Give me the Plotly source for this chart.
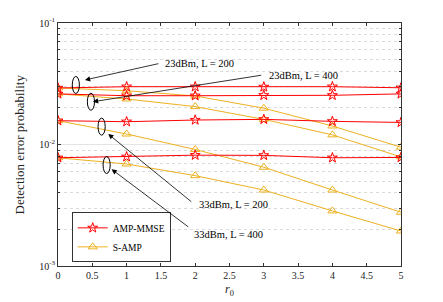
import plotly.graph_objects as go

r0 = [0, 1, 2, 3, 4, 5]

# AMP-MMSE
amp_23_200 = [0.0292, 0.0299, 0.0299, 0.0298, 0.0299, 0.0293]
amp_23_400 = [0.0261, 0.0252, 0.0252, 0.0254, 0.0254, 0.0261]
amp_33_200 = [0.0157, 0.0154, 0.0159, 0.0161, 0.0155, 0.0152]
amp_33_400 = [0.00778, 0.00792, 0.00817, 0.00814, 0.00778, 0.00782]

# S-AMP
samp_23_200 = [0.0292, 0.0277, 0.0251, 0.0199, 0.0142, 0.0095]
samp_23_400 = [0.0261, 0.0237, 0.0205, 0.0161, 0.0120, 0.0079]
samp_33_200 = [0.0157, 0.0122, 0.0091, 0.0065, 0.00422, 0.00277]
samp_33_400 = [0.00778, 0.00691, 0.00554, 0.00422, 0.00284, 0.00194]

x_ticks = [0, 0.5, 1, 1.5, 2, 2.5, 3, 3.5, 4, 4.5, 5]
y_major = [1e-3, 1e-2, 1e-1]
y_major_text = ["10<sup>-3</sup>", "10<sup>-2</sup>", "10<sup>-1</sup>"]
y_minor = [m * d for d in (1e-3, 1e-2) for m in range(2, 10)]

RED = "#ff0000"
YEL = "#EDB120"
FONT = "Liberation Serif"

fig = go.Figure()

for i, s in enumerate([samp_23_200, samp_23_400, samp_33_200, samp_33_400]):
    fig.add_trace(go.Scatter(
        x=r0, y=s, mode="lines+markers", name="S-AMP",
        line=dict(color=YEL, width=1),
        marker=dict(symbol="triangle-up-open", size=8, color=YEL, line=dict(width=1)),
        showlegend=(i == 0), legendrank=2))

for i, s in enumerate([amp_23_200, amp_23_400, amp_33_200, amp_33_400]):
    fig.add_trace(go.Scatter(
        x=r0, y=s, mode="lines+markers", name="AMP-MMSE",
        line=dict(color=RED, width=1),
        marker=dict(symbol="star-open", size=7.5, color=RED, line=dict(width=1)),
        showlegend=(i == 0), legendrank=1))

# ellipses: centre (x, log10 y); half sizes in x units / decades
ellipses = [(0.26, -1.510), (0.48, -1.648), (0.636, -1.853), (0.709, -2.169)]
EW, EH = 0.052, 0.07
for ex, ey in ellipses:
    fig.add_shape(type="circle", xref="x", yref="y",
                  x0=ex - EW, x1=ex + EW, y0=10 ** (ey - EH), y1=10 ** (ey + EH),
                  line=dict(color="black", width=1))

# arrows: (head x, head log y, tail x, tail log y)
arrows = [(0.393, -1.469, 1.485, -1.332),
          (0.509, -1.648, 2.984, -1.428),
          (0.732, -1.914, 1.965, -2.481),
          (0.782, -2.204, 1.920, -2.687)]
for hx, hy, tx, ty in arrows:
    fig.add_annotation(x=hx, y=hy, ax=tx, ay=ty, xref="x", yref="y", axref="x", ayref="y",
                       text="", showarrow=True, arrowhead=2, arrowsize=1.3, arrowwidth=0.8,
                       arrowcolor="black")

labels = [(1.53, -1.332, "23dBm, L = 200"),
          (3.05, -1.428, "23dBm, L = 400"),
          (2.03, -2.49, "33dBm, L = 200"),
          (1.96, -2.737, "33dBm, L = 400")]
for lx, ly, t in labels:
    fig.add_annotation(x=lx, y=ly, xref="x", yref="y", text=t, showarrow=False,
                       xanchor="left", yanchor="middle",
                       font=dict(family=FONT, size=10.5, color="black"))

# axis titles
fig.add_annotation(x=0.5, y=-0.097, xref="paper", yref="paper", text="<i>r</i><sub>0</sub>",
                   showarrow=False, xanchor="center", yanchor="middle",
                   font=dict(family=FONT, size=12, color="#222"))
fig.add_annotation(x=-0.111, y=0.5, xref="paper", yref="paper", text="Detection error probability",
                   showarrow=False, xanchor="center", yanchor="middle", textangle=-90,
                   font=dict(family=FONT, size=13, color="#222"))

fig.update_xaxes(range=[0, 5], tickvals=x_ticks, ticktext=[f"{v:g}" for v in x_ticks],
                 ticks="inside", ticklen=3, tickcolor="#333", mirror="allticks",
                 showline=True, linecolor="#333", linewidth=1, showgrid=False, zeroline=False,
                 automargin=False,
                 tickfont=dict(family=FONT, size=10, color="#222"))
fig.update_yaxes(type="log", range=[-3, -1], tickvals=y_major, ticktext=y_major_text,
                 ticks="inside", ticklen=3, tickcolor="#333", mirror="allticks",
                 showline=True, linecolor="#333", linewidth=1, automargin=False,
                 showgrid=True, gridcolor="#e4e4e4", gridwidth=1, zeroline=False,
                 minor=dict(tickmode="array", tickvals=y_minor, ticks="inside", ticklen=2,
                            tickcolor="#333", showgrid=True, gridcolor="#dadada",
                            griddash="dot", gridwidth=1),
                 tickfont=dict(family=FONT, size=10, color="#222"))

fig.update_layout(
    width=435, height=294,
    margin=dict(l=50, r=42, t=15, b=36, autoexpand=False),
    plot_bgcolor="white", paper_bgcolor="white",
    font=dict(family=FONT, color="#222"),
    showlegend=True,
    legend=dict(x=0.04, y=0.015, xanchor="left", yanchor="bottom",
                bgcolor="white", bordercolor="#333", borderwidth=1,
                font=dict(family=FONT, size=9.5, color="black"),
                itemwidth=30, tracegroupgap=0),
)

fig.write_html("out.html")
